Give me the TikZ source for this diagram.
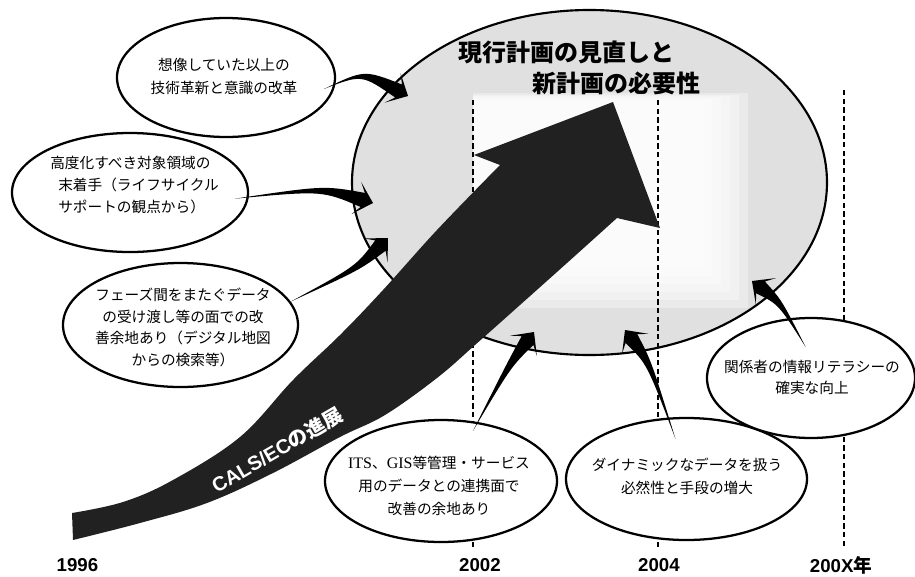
\documentclass[tikz,border=0pt]{standalone}
\usepackage{fontspec}
\setmainfont{Liberation Sans}
\newfontfamily\jp{Noto Sans CJK JP}
\newfontfamily\tms{Liberation Serif}
\usetikzlibrary{shapes.geometric,calc}

\newcommand\brusharrow[3]{%
  \path ($(#3)!8pt!(#2)$) coordinate (bj) ($(#3)!13pt!(#2)$) coordinate (bb);
  \fill[brushfill] (#1) .. controls ($(#2)!2pt!90:(#3)$) .. ($(bj)!5.5pt!90:(#3)$)
    -- ($(bb)!12.5pt!90:(#3)$) -- (#3) -- ($(bb)!12.5pt!-90:(#3)$)
    -- ($(bj)!5.5pt!-90:(#3)$) .. controls ($(#2)!2pt!-90:(#3)$) .. (#1) -- cycle;}

\begin{document}
\begin{tikzpicture}[x=0.75pt,y=-0.75pt,
  bubble/.style={ellipse, draw=black, line width=1.7pt, fill=white, inner sep=0pt},
  btext/.style={font=\jp\fontsize{11}{16.5}\selectfont, align=center, inner sep=0pt},
  year/.style={font=\bfseries\fontsize{14}{14}\selectfont, inner sep=0pt},
  guide/.style={line width=0.9pt, dash pattern=on 4pt off 2.5pt},
  band/.style={fill=black!87},
  brushfill/.style={fill=black},
  titlefont/.style={font=\jp\bfseries\fontsize{18}{18}\selectfont, inner sep=0pt}]
\useasboundingbox (0,0) rectangle (915,576);

% big ellipse
\node[ellipse, draw=black, line width=1.6pt, fill=black!12, inner sep=0pt,
      minimum width=356.25pt, minimum height=258.75pt] (big) at (589.5,182.5) {};
\begin{scope}
  \clip (589.5,182.5) ellipse [x radius=177pt, y radius=128.2pt];
  \foreach \i in {0,...,5}{
    \fill[white, fill opacity=0.35] (473,{93+1.6*\i}) rectangle ({748-9*\i},{308-8*\i});
  }
\end{scope}

% year labels
\node[year] (y1996) at (77.5,565) {1996};
\node[year] (y2002) at (480,565) {2002};
\node[year] (y2004) at (659,565) {2004};
\node[year] (y200X) at (841,565) {200X{\jp\bfseries 年}};

% dashed guide lines
\coordinate (g1) at (473,100);
\coordinate (g2) at (658,100);
\coordinate (g3) at (844,90);
\draw[guide] (g1) -- (g1 |- 0,548);
\draw[guide] (g2) -- (g2 |- 0,548);
\draw[guide] (g3) -- (g3 |- 0,548);

% main band arrow
\fill[band] plot[smooth, tension=0.6] coordinates {(72,513) (123,502) (173,480) (240,437) (293,380) (340,335) (383,290) (437,230) (500,165)}
  -- (474,155) -- (613,102) -- (660,228)
  -- plot[smooth, tension=0.6] coordinates {(617,218) (567,263) (520,305) (475,345) (437,378) (385,415) (340,437) (273,473) (207,503) (140,523) (73,540)}
  -- cycle;
\node[font=\bfseries\fontsize{15}{15}\selectfont, text=white, rotate=30, inner sep=0pt] (cals) at (277,450) {CALS/EC{\jp\bfseries の進展}};

% bubbles
\node[bubble, minimum width=163.5pt, minimum height=89.25pt] (e1) at (226,77.5) {};
\node[bubble, minimum width=177pt, minimum height=89.25pt] (e2) at (130,192.5) {};
\node[bubble, minimum width=176.25pt, minimum height=93pt] (e3) at (180.5,325) {};
\node[bubble, minimum width=174pt, minimum height=91.5pt] (e4) at (441,481) {};
\node[bubble, minimum width=180.75pt, minimum height=91.5pt] (e5) at (686.5,479) {};
\node[bubble, minimum width=156pt, minimum height=90pt] (e6) at (811,378) {};

% bubble texts
\node[btext, font=\jp\fontsize{11}{17.25}\selectfont] (x1) at (224,76.5) {想像していた以上の\\技術革新と意識の改革};
\node[btext, align=left, anchor=west] (x2) at (50,185) {高度化すべき対象領域の\\\hspace*{6pt}末着手（ライフサイクル\\\hspace*{6pt}サポートの観点から）};
\node[btext, font=\jp\fontsize{11}{16.3}\selectfont] (x3) at (183,327.5) {フェーズ間をまたぐデータ\\の受け渡し等の面での改\\善余地あり（デジタル地図\\からの検索等）};
\node[btext, font=\jp\fontsize{11}{17.5}\selectfont] (x4) at (439,486) {{\tms\fontsize{12}{12}\selectfont ITS}、{\tms\fontsize{12}{12}\selectfont GIS}等管理・サービス\\用のデータとの連携面で\\改善の余地あり};
\node[btext, font=\jp\fontsize{11}{17.25}\selectfont] (x5) at (687,476.5) {ダイナミックなデータを扱う\\必然性と手段の増大};
\node[btext, font=\jp\fontsize{11}{16}\selectfont] (x6) at (812,377.5) {関係者の情報リテラシーの\\確実な向上};

% brush arrows
\coordinate (s1) at ($(e1.-6)+(-10,0)$);
\coordinate (c1) at (363,72);
\coordinate (t1) at (408,96);
\coordinate (s2) at ($(e2.-3)+(-14,0)$);
\coordinate (c2) at (323,188);
\coordinate (t2) at (373,203);
\coordinate (s3) at (e3.12);
\coordinate (c3) at (358,268);
\coordinate (t3) at (388,238);
\coordinate (s4) at ($(e4.62)+(0,10)$);
\coordinate (c4) at (509,365);
\coordinate (t4) at (534,332);
\coordinate (s5) at ($(e5.100)+(0,22)$);
\coordinate (c5) at (649,362);
\coordinate (t5) at (625,330);
\coordinate (s6) at ($(e6.95)+(0,30)$);
\coordinate (c6) at (780,302);
\coordinate (t6) at (752,281);
\brusharrow{s1}{c1}{t1}
\brusharrow{s2}{c2}{t2}
\brusharrow{s3}{c3}{t3}
\brusharrow{s4}{c4}{t4}
\brusharrow{s5}{c5}{t5}
\brusharrow{s6}{c6}{t6}

% title
\node[titlefont] (title1) at (566,52) {現行計画の見直しと};
\node[titlefont] (title2) at (616,83) {新計画の必要性};
\end{tikzpicture}
\end{document}
